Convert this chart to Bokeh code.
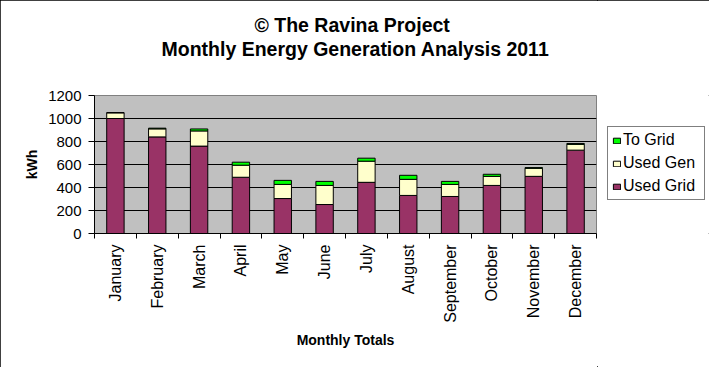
import math
from bokeh.plotting import figure
from bokeh.layouts import row
from bokeh.models import (ColumnDataSource, FixedTicker, Range1d, Legend,
                          LegendItem, Title)
from bokeh.embed import file_html
from bokeh.resources import INLINE

# ---- data ----
months = ["January", "February", "March", "April", "May", "June", "July",
          "August", "September", "October", "November", "December"]
used_grid = [1000, 840, 760, 489, 304, 252, 445, 331, 322, 418, 497, 725]
used_gen = [50, 70, 132, 105, 123, 166, 184, 140, 105, 79, 70, 50]
to_grid = [0, 6, 17, 26, 35, 35, 26, 35, 26, 18, 6, 8]
y_ticks = [0, 200, 400, 600, 800, 1000, 1200]
series_names = ["Used Grid", "Used Gen", "To Grid"]
series_colors = ["#993366", "#FFFFCC", "#00FF00"]

FONT = "Liberation Sans"

x = [i + 0.5 for i in range(len(months))]
src = ColumnDataSource(dict(x=x, used_grid=used_grid, used_gen=used_gen,
                            to_grid=to_grid))
stack_cols = ["used_grid", "used_gen", "to_grid"]

H = 367
p = figure(width=597, height=H, output_backend="svg", toolbar_location=None,
           title=None,
           x_range=Range1d(0, len(months)), y_range=Range1d(0, 1200),
           min_border_left=94, min_border_right=1,
           min_border_top=95, min_border_bottom=134,
           background_fill_color="#C0C0C0", border_fill_color="white",
           outline_line_color="#808080")

# titles: stacked outward from the frame (spacer first)
spacer = Title(text=" ", text_font_size="1px", standoff=34)
t2 = Title(text="Monthly Energy Generation Analysis 2011", align="left",
           text_font=FONT, text_font_size="19.5px", text_font_style="bold",
           text_color="black", offset=67, standoff=-3)
t1 = Title(text="\u00a9 The Ravina Project", align="left",
           text_font=FONT, text_font_size="19.5px", text_font_style="bold",
           text_color="black", offset=160, standoff=4)
p.add_layout(spacer, "above")
p.add_layout(t2, "above")
p.add_layout(t1, "above")

# bars
rs = p.vbar_stack(stack_cols, x="x", width=0.416, source=src,
                  fill_color=series_colors, line_color="black", line_width=1)

# y axis
ya = p.yaxis[0]
ya.ticker = FixedTicker(ticks=y_ticks)
ya.axis_label = "kWh"
ya.axis_label_text_font = FONT
ya.axis_label_text_font_size = "14px"
ya.axis_label_text_font_style = "bold"
ya.axis_label_text_color = "black"
ya.axis_label_standoff = 5
ya.major_label_text_font = FONT
ya.major_label_text_font_size = "15px"
ya.major_label_text_color = "black"
ya.major_label_standoff = 7
ya.major_tick_out = 6
ya.major_tick_in = 0
ya.minor_tick_line_color = None
ya.axis_line_color = "black"
ya.major_tick_line_color = "black"

# x axis: labels at category centres, tick marks at boundaries
xa = p.xaxis[0]
xa.ticker = FixedTicker(ticks=x, minor_ticks=list(range(len(months) + 1)))
xa.major_label_overrides = {xi: m for xi, m in zip(x, months)}
xa.major_label_orientation = math.pi / 2
xa.major_label_text_font = FONT
xa.major_label_text_font_size = "16px"
xa.major_label_text_color = "black"
xa.major_label_standoff = 6
xa.major_tick_out = 0
xa.major_tick_in = 0
xa.minor_tick_out = 5
xa.minor_tick_in = 0
xa.minor_tick_line_color = "black"
xa.axis_line_color = "black"
xa.axis_label = "Monthly Totals"
xa.axis_label_text_font = FONT
xa.axis_label_text_font_size = "14px"
xa.axis_label_text_font_style = "bold"
xa.axis_label_text_color = "black"
xa.axis_label_standoff = 6

# grid
p.xgrid.visible = False
p.ygrid.ticker = FixedTicker(ticks=y_ticks[1:-1])
p.ygrid.grid_line_color = "black"
p.ygrid.grid_line_width = 1

# legend panel: a second, axis-less figure right of the plot area (its frame
# is aligned with the main frame). Its own copy of the stack is kept out of
# view by its x range; it only supplies the legend swatches.
p2 = figure(width=112, height=H, output_backend="svg", toolbar_location=None,
            title=None, x_axis_type=None, y_axis_type=None, min_border=0,
            x_range=Range1d(-3, -2), y_range=Range1d(0, 1200),
            outline_line_color=None, background_fill_color="white",
            border_fill_color="white")
p2.grid.visible = False
swatch = p2.vbar_stack(stack_cols, x="x", width=0.416, source=src,
                       fill_color=series_colors, line_color="black",
                       line_width=1)
items = [LegendItem(label=series_names[i], renderers=[swatch[i]])
         for i in (2, 1, 0)]
legend = Legend(items=items, location=(10, 33), margin=0,
                border_line_color="black", border_line_width=1,
                background_fill_color="white", background_fill_alpha=1,
                label_text_font=FONT, label_text_font_size="16px",
                label_text_color="black",
                glyph_width=9, glyph_height=7, label_standoff=2,
                padding=4, spacing=5, label_height=16, label_width=77)
p2.add_layout(legend, "center")

layout = row(p, p2, styles={"outline": "1px solid black",
                            "outline-offset": "-1px"})

open("out.html", "w").write(file_html(layout, INLINE))
